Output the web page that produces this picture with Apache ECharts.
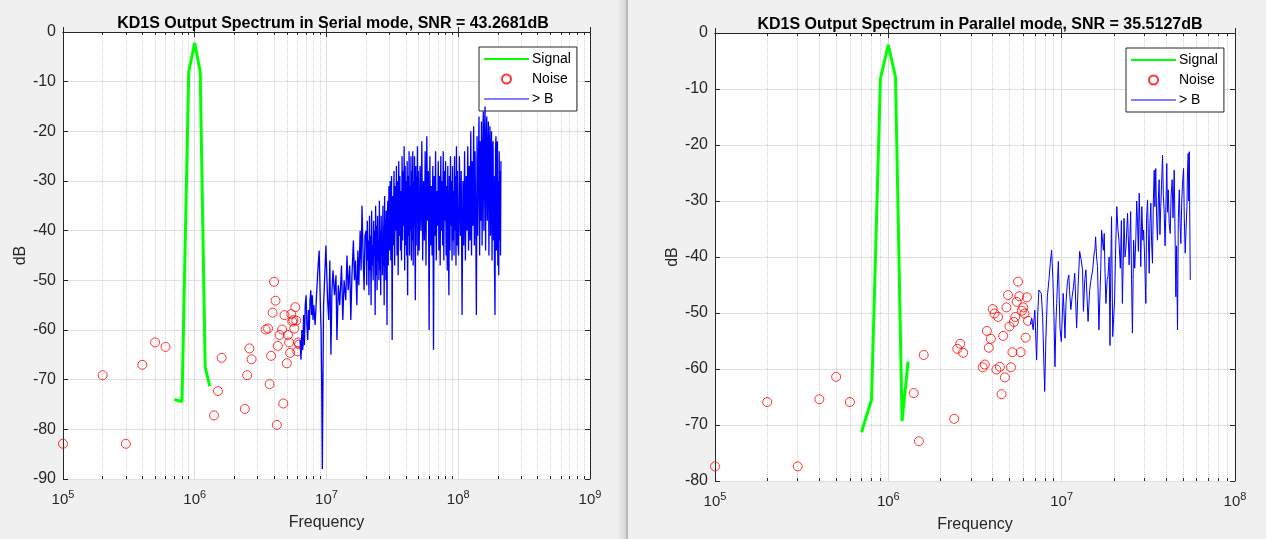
<!DOCTYPE html>
<html>
<head>
<meta charset="utf-8">
<script src="https://cdn.jsdelivr.net/npm/echarts/dist/echarts.min.js"></script>
<style>
html, body { margin: 0; padding: 0; background: #f0f0f0; }
#chart_container { width: 1266px; height: 539px; }
</style>
</head>
<body>
<div id="chart_container"></div>
<script>
// frequencies in MHz, levels in dB
var signalSerial = [[0.7,-74],[0.8,-74.4],[0.9,-8],[1.0,-2.2],[1.1,-8],[1.2,-67.5],[1.3,-71.3]];
var signalParallel = [[0.7,-71.3],[0.8,-65.5],[0.9,-8.2],[1.0,-2.1],[1.1,-7.9],[1.2,-69.3],[1.3,-58.7]];

var noiseSerial = [
    [0.1,-82.9],[0.2,-69.1],[0.3,-82.9],[0.4,-67],[0.5,-62.5],[0.6,-63.4],
    [1.4,-77.2],[1.5,-72.3],[1.6,-65.6],[2.4,-75.9],[2.5,-69.1],[2.6,-63.7],[2.7,-65.9],
    [3.45,-59.9],[3.6,-59.7],[3.7,-70.9],[3.8,-65.2],[3.9,-56.5],[4.0,-50.3],[4.1,-54.1],
    [4.2,-79.1],[4.27,-63.2],[4.4,-61],[4.6,-59.9],[4.7,-74.8],[4.8,-57],[5.0,-66.7],
    [5.1,-61],[5.2,-62.5],[5.3,-64.6],[5.4,-56.8],[5.5,-58.3],[5.6,-58],[5.7,-59.7],
    [5.8,-55.4],[5.9,-58.1],[6.0,-64.3],[6.1,-62.5],[6.2,-62.9]
];
var noiseParallel = [
    [0.1,-77.4],[0.2,-65.9],[0.3,-77.4],[0.4,-65.4],[0.5,-61.4],[0.6,-65.9],
    [1.4,-64.3],[1.5,-72.9],[1.6,-57.5],[2.4,-68.9],[2.5,-56.4],[2.6,-55.5],[2.7,-57.1],
    [3.5,-59.7],[3.6,-59.2],[3.7,-53.2],[3.8,-56.2],[3.9,-54.6],[4.0,-49.3],[4.1,-50.1],
    [4.2,-60.1],[4.3,-50.7],[4.4,-59.6],[4.5,-64.5],[4.6,-54.1],[4.7,-61.5],[4.8,-49],
    [4.9,-46.8],[5.0,-52.4],[5.1,-59.7],[5.2,-57],[5.3,-51.6],[5.4,-50.7],[5.5,-48],
    [5.6,-44.4],[5.7,-47],[5.8,-57],[5.9,-49.6],[6.0,-49],[6.1,-50.1],[6.2,-54.4],
    [6.3,-47.2],[6.4,-51.4]
];

var blueSerial = [
    [6.3,-62],[6.4,-66],[6.5,-60],[6.6,-64],[6.7,-57],[6.8,-63],[6.9,-55],[7.0,-53],[7.1,-59],[7.2,-62],
    [7.3,-56],[7.4,-60],[7.5,-54],[7.6,-52],[7.7,-57],[7.8,-53],[7.9,-58],[8.0,-55],[8.2,-59],[8.4,-53],
    [8.6,-48],[8.8,-44],[8.9,-50],[9.0,-56],[9.1,-60],[9.2,-72],[9.3,-88],[9.4,-70],[9.5,-55],[9.7,-49],
    [9.9,-43],[10.0,-47],[10.2,-54],[10.4,-58],[10.6,-46],[10.8,-65],[11.0,-52],[11.2,-48],[11.5,-53],[11.8,-49],
    [12.0,-62],[12.3,-51],[12.6,-55],[13.0,-47],[13.3,-58],[13.6,-50],[14.0,-54],[14.3,-45],[14.6,-52],[15.0,-47],
    [15.3,-58],[15.6,-49],[16.0,-42],[16.3,-50],[16.6,-46],[17.0,-55],[17.3,-44],[17.6,-51],[18.0,-40],[18.3,-48],
    [18.6,-35],[19.0,-46],[19.3,-52],[19.6,-41],
    [20.0,-40],[20.2,-51],[20.4,-38],[20.6,-46],[20.8,-42],[21.0,-53],[21.2,-37],[21.4,-48],[21.6,-41],[21.8,-55],
    [22.0,-36],[22.2,-47],[22.4,-43],[22.6,-50],[22.8,-38],[23.0,-45],[23.2,-40],[23.4,-57],[23.6,-35],[23.8,-49],
    [24.0,-39],[24.2,-52],[24.4,-37],[24.6,-46],[24.8,-42],[25.0,-50],[25.2,-34],[25.4,-48],[25.6,-40],[25.8,-53],
    [26.0,-37],[26.2,-45],[26.4,-41],[26.6,-49],[26.8,-35],[27.0,-47],[27.2,-39],[27.4,-55],[27.6,-33],[27.8,-46],
    [28.0,-38],[28.2,-50],[28.4,-36],[28.6,-44],[28.8,-59],[29.0,-37],[29.2,-34],[29.4,-47],[29.6,-39],[29.8,-31],
    [30.1,-44],[30.45,-30],[30.8,-46],[31.15,-29],[31.5,-62],[31.85,-33],[32.2,-43],[32.55,-28],[32.9,-47],[33.25,-31],
    [33.6,-40],[33.95,-27],[34.3,-45],[34.65,-30],[35.0,-49],[35.35,-26],[35.7,-41],[36.05,-29],[36.4,-44],[36.75,-32],
    [37.1,-46],[37.45,-25],[37.8,-42],[38.15,-28],[38.5,-39],[38.85,-23],[39.2,-48],[39.55,-27],[39.9,-43],[40.25,-30],
    [40.6,-45],[40.95,-26],[41.3,-53],[41.65,-29],[42.0,-41],[42.35,-24],[42.7,-45],[43.05,-31],[43.4,-40],[43.75,-25],
    [44.1,-46],[44.45,-28],[44.8,-42],[45.15,-24],[45.5,-47],[45.85,-30],[46.2,-39],[46.55,-25],[46.9,-44],[47.25,-54],
    [47.6,-27],[47.95,-43],[48.3,-29],[48.65,-38],[49.0,-23],[49.35,-45],[49.7,-28],
    [50.5,-44],[51.3,-27],[52.1,-40],[52.9,-22],[53.7,-46],[54.5,-30],[55.3,-42],[56.1,-24],[56.9,-47],[57.7,-21],
    [58.5,-38],[59.3,-28],[60.1,-60],[60.9,-25],[61.7,-43],[62.5,-31],[63.3,-45],[64.1,-27],[64.9,-64],[65.7,-29],
    [66.5,-41],[67.3,-24],[68.1,-46],[68.9,-32],[69.7,-39],[70.5,-26],[71.3,-44],[72.1,-29],[72.9,-47],[73.7,-25],
    [74.5,-40],[75.3,-30],[76.1,-43],[76.9,-24],[77.7,-46],[78.5,-28],[79.3,-38],[80.1,-26],[80.9,-45],[81.7,-31],
    [82.5,-48],[83.3,-27],[84.1,-41],[84.9,-53],[85.7,-29],[86.5,-44],[87.3,-25],[88.1,-39],[88.9,-30],[89.7,-46],
    [90.5,-27],[91.3,-42],[92.1,-32],[92.9,-45],[93.7,-25],[94.5,-40],[95.3,-29],[96.1,-47],[96.9,-23],[97.7,-43],
    [98.5,-28],[99.3,-41],
    [100.5,-45],[102.1,-25],[103.7,-41],[105.3,-28],[106.9,-57],[108.5,-30],[110.1,-43],[111.7,-24],[113.3,-46],[114.9,-29],
    [116.5,-40],[118.1,-23],[119.7,-44],[121.3,-27],[122.9,-42],[124.5,-20],[126.1,-45],[127.7,-26],[129.3,-39],[130.9,-19],
    [132.5,-43],[134.1,-24],[135.7,-38],[137.3,-57],[138.9,-21],[140.5,-41],[142.1,-27],[143.7,-17],[145.3,-45],[146.9,-22],
    [148.5,-38],[150.1,-18],[151.7,-43],[153.3,-25],[154.9,-16],[156.5,-40],[158.1,-21],[159.7,-15],[161.3,-44],[162.9,-23],
    [164.5,-17],[166.1,-38],[167.7,-26],[169.3,-18],[170.9,-45],[172.5,-24],[174.1,-19],[175.7,-41],[177.3,-28],[178.9,-20],
    [180.5,-46],[182.1,-25],[183.7,-22],[185.3,-42],[186.9,-29],[188.5,-48],[190.1,-57],[191.7,-24],[193.3,-21],[194.9,-44],
    [196.5,-27],[198.1,-22],[199.7,-47],[201.3,-30],[202.9,-49],[204.5,-24],[206.1,-42],[207.7,-28],[209.3,-45],[210.9,-26]
];

var blueParallel = [
    [6.6,-52],[6.7,-51],[6.85,-53],[7.0,-49.5],[7.17,-58.4],[7.28,-50],[7.39,-45.9],[7.5,-46],[7.63,-46.5],[7.77,-50.8],
    [7.88,-58],[7.98,-64],[8.1,-55],[8.27,-47],[8.45,-44],[8.6,-41],[8.75,-38.8],[8.9,-44],[9.03,-50.8],[9.15,-59.6],
    [9.26,-52],[9.36,-48.3],[9.47,-44],[9.57,-40.8],[9.68,-47],[9.78,-52.7],[9.95,-55.1],[10.1,-50],[10.2,-46.5],[10.3,-49],
    [10.45,-54.5],[10.6,-48],[10.8,-44.4],[11.0,-43.2],[11.1,-46],[11.3,-49.4],[11.5,-47],[11.7,-45.3],[11.9,-42.9],[12.05,-48],
    [12.2,-52.7],[12.45,-45],[12.7,-39],[12.95,-40.5],[13.2,-42.3],[13.35,-49.7],[13.6,-44],[13.8,-42.3],[14.0,-47],[14.2,-51.5],
    [14.5,-46],[14.7,-44.4],[15.1,-42.3],[15.4,-39.3],[15.55,-38.8],[15.7,-36.4],[15.9,-40],[16.1,-41.7],[16.4,-53],[16.8,-42.3],
    [17.0,-35.2],[17.4,-38.8],[17.6,-35.8],[17.8,-43],[18.0,-48.3],[18.3,-44],[18.5,-43.5],[18.8,-40],[19.0,-55.8],[19.2,-42],
    [19.4,-32.8],[19.7,-54.2],[20.2,-47.7],[20.5,-38],[20.8,-31],[21.1,-35],[21.4,-37],[21.8,-42],[22.1,-33.5],[22.4,-48.3],
    [22.9,-33.1],[23.2,-40],[23.5,-38.2],[24.0,-32.2],[24.2,-36],[24.5,-41.4],[25.0,-31.9],[25.3,-44],[25.6,-53.6],[26.0,-37],
    [26.4,-42],[26.8,-36.4],[27.1,-30],[27.4,-33.7],[27.7,-39],[28.0,-28.6],[28.3,-34],[28.6,-41.7],[29.0,-31],[29.4,-37],
    [29.7,-35.2],[30.1,-40],[30.6,-48.3],[30.9,-33],[31.3,-29.8],[31.6,-36],[32.0,-42.9],[32.3,-34],[32.7,-30.4],[33.0,-37],
    [33.4,-41.1],[33.8,-30],[34.2,-24.5],[34.5,-31],[34.9,-24.2],[35.3,-33],[35.7,-37],[36.1,-30],[36.5,-26.2],[36.9,-36],
    [37.3,-31],[37.7,-27],[38.2,-21.8],[38.6,-29],[39.0,-31.6],[39.5,-38],[40.0,-30],[40.4,-23.3],[40.8,-32],[41.2,-28],
    [41.7,-34],[42.3,-35.8],[42.8,-29],[43.4,-26.2],[43.9,-33],[44.6,-24.5],[45.1,-36],[45.6,-47.1],[46.0,-38],[46.6,-53],
    [47.1,-33],[47.7,-28],[48.2,-34],[48.7,-37.6],[49.3,-30],[49.8,-27],[50.5,-24.2],[51.0,-33],[51.6,-39.3],[52.2,-35],
    [52.8,-31],[53.2,-25],[53.7,-21.5],[54.1,-30],[54.5,-21.2],[54.9,-35],[55.2,-44.1]
];

var legendNames = ['Signal', 'Noise', '> B'];
var fontName = 'Liberation Sans, Arial, sans-serif';
var axisColor = '#262626';

function toHz(list) {
    return list.map(function (p) { return [p[0] * 1e6, p[1]]; });
}

// 2..9 x 10^n positions for the log minor grid
function minorList(lo, hi) {
    var out = [];
    for (var e = lo; e < hi; e++) {
        for (var k = 2; k <= 9; k++) out.push(k * Math.pow(10, e));
    }
    return out;
}

function supLabel(v) {
    var e = Math.round(Math.log(v) / Math.LN10);
    return '{b|10}{s|' + e + '}';
}

function xAxisPair(grid, lo, hi) {
    return [{
        type: 'log', logBase: 10, gridIndex: grid,
        min: Math.pow(10, lo), max: Math.pow(10, hi), splitNumber: hi - lo,
        name: 'Frequency', nameLocation: 'middle', nameGap: 36,
        nameTextStyle: { fontFamily: fontName, fontSize: 16, color: axisColor },
        axisLine: { lineStyle: { color: axisColor } },
        axisTick: { inside: true, length: 5, lineStyle: { color: axisColor } },
        axisLabel: {
            formatter: supLabel, margin: 10,
            rich: {
                b: { fontFamily: fontName, fontSize: 15, color: axisColor },
                s: { fontFamily: fontName, fontSize: 11, color: axisColor, padding: [0, 0, 10, 0] }
            }
        },
        splitLine: { show: true, lineStyle: { color: '#dfdfdf' } }
    }, {
        type: 'log', logBase: 10, gridIndex: grid, position: 'top',
        min: Math.pow(10, lo), max: Math.pow(10, hi), splitNumber: hi - lo,
        axisLine: { lineStyle: { color: axisColor } },
        axisTick: { inside: true, length: 5, lineStyle: { color: axisColor } },
        axisLabel: { show: false }, splitLine: { show: false }
    }];
}

function yAxisPair(grid, lo) {
    return [{
        type: 'value', gridIndex: grid, min: lo, max: 0, interval: 10,
        name: 'dB', nameLocation: 'middle', nameGap: 34, nameRotate: 90,
        nameTextStyle: { fontFamily: fontName, fontSize: 16, color: axisColor },
        axisLine: { show: true, lineStyle: { color: axisColor } },
        axisTick: { show: true, inside: true, length: 5, lineStyle: { color: axisColor } },
        axisLabel: { fontFamily: fontName, fontSize: 16, color: axisColor, margin: 7 },
        splitLine: { show: true, lineStyle: { color: '#dfdfdf' } }
    }, {
        type: 'value', gridIndex: grid, position: 'right', min: lo, max: 0, interval: 10,
        axisLine: { show: true, lineStyle: { color: axisColor } },
        axisTick: { show: true, inside: true, length: 5, lineStyle: { color: axisColor } },
        axisLabel: { show: false }, splitLine: { show: false }
    }];
}

// dotted minor grid plus short minor ticks at bottom and top
function minorSeries(xi, yi, lo, hi, ymin, tick) {
    var f = minorList(lo, hi);
    var ticks = [];
    f.forEach(function (v) {
        ticks.push([{ coord: [v, ymin] }, { coord: [v, ymin + tick] }]);
        ticks.push([{ coord: [v, 0] }, { coord: [v, -tick] }]);
    });
    return [{
        type: 'line', xAxisIndex: xi, yAxisIndex: yi, data: [], z: 1, silent: true,
        markLine: {
            z: 1, silent: true, symbol: ['none', 'none'], label: { show: false },
            lineStyle: { type: 'dotted', color: '#d4d4d4', width: 1 },
            data: f.map(function (v) { return { xAxis: v }; })
        }
    }, {
        type: 'line', xAxisIndex: xi, yAxisIndex: yi, data: [], z: 7, silent: true,
        markLine: {
            z: 7, silent: true, symbol: ['none', 'none'], label: { show: false },
            lineStyle: { type: 'solid', color: axisColor, width: 1 },
            data: ticks
        }
    }];
}

function plotSeries(xi, yi, sig, noise, blue, blueWidth) {
    return [{
        name: 'Signal', type: 'line', xAxisIndex: xi, yAxisIndex: yi, data: toHz(sig),
        symbol: 'none', lineStyle: { color: '#00ff00', width: 3 }, itemStyle: { color: '#00ff00' }, z: 3
    }, {
        name: 'Noise', type: 'scatter', xAxisIndex: xi, yAxisIndex: yi, data: toHz(noise),
        symbol: 'circle', symbolSize: 9,
        itemStyle: { color: 'rgba(0,0,0,0)', borderColor: '#ff0000', borderWidth: 1 }, z: 4
    }, {
        name: '> B', type: 'line', xAxisIndex: xi, yAxisIndex: yi, data: toHz(blue),
        symbol: 'none', lineStyle: { color: '#0000ff', width: blueWidth }, itemStyle: { color: '#0000ff' }, z: 5
    }];
}

function legendAt(left, top) {
    return {
        data: [
            { name: legendNames[0], itemStyle: { opacity: 0 } },
            { name: legendNames[1] },
            { name: legendNames[2], itemStyle: { opacity: 0 }, lineStyle: { width: 1 } }
        ],
        orient: 'vertical', left: left, top: top,
        itemWidth: 45, itemHeight: 9, itemGap: 6, padding: [5, 6, 5, 4],
        backgroundColor: '#ffffff', borderColor: axisColor, borderWidth: 1, borderRadius: 0,
        selectedMode: false,
        textStyle: { fontFamily: fontName, fontSize: 14, color: '#000', padding: [0, 0, 0, -2] }
    };
}

var dom = document.getElementById('chart_container');
var myChart = echarts.init(dom, null, { renderer: 'canvas' });

var option = {
    animation: false,
    backgroundColor: '#f0f0f0',
    title: [{
        text: 'KD1S Output Spectrum in Serial mode, SNR = 43.2681dB',
        left: 328, top: 11, textAlign: 'center',
        textStyle: { fontFamily: fontName, fontSize: 16, fontWeight: 'bold', color: '#000' }
    }, {
        text: 'KD1S Output Spectrum in Parallel mode, SNR = 35.5127dB',
        left: 975, top: 12, textAlign: 'center',
        textStyle: { fontFamily: fontName, fontSize: 16, fontWeight: 'bold', color: '#000' }
    }],
    legend: [legendAt(479, 47), legendAt(1126, 48)],
    grid: [
        { left: 63, top: 32, width: 527, height: 447, show: true, backgroundColor: '#ffffff', borderWidth: 0 },
        { left: 715, top: 33, width: 520, height: 448, show: true, backgroundColor: '#ffffff', borderWidth: 0 }
    ],
    xAxis: xAxisPair(0, 5, 9).concat(xAxisPair(1, 5, 8)),
    yAxis: yAxisPair(0, -90).concat(yAxisPair(1, -80)),
    graphic: [{
        type: 'rect', shape: { x: 617, y: 0, width: 9, height: 539 }, silent: true,
        style: { fill: new echarts.graphic.LinearGradient(0, 0, 1, 0, [
            { offset: 0, color: '#f0f0f0' }, { offset: 1, color: '#d6d6d6' }]) }
    }, {
        type: 'rect', shape: { x: 626, y: 0, width: 2, height: 539 }, silent: true,
        style: { fill: '#b8b8b8' }
    }],
    series: []
        .concat(minorSeries(0, 0, 5, 9, -90, 0.6))
        .concat(minorSeries(2, 2, 5, 8, -80, 0.54))
        .concat(plotSeries(0, 0, signalSerial, noiseSerial, blueSerial, 1.3))
        .concat(plotSeries(2, 2, signalParallel, noiseParallel, blueParallel, 1))
};

myChart.setOption(option, true);
</script>
</body>
</html>
